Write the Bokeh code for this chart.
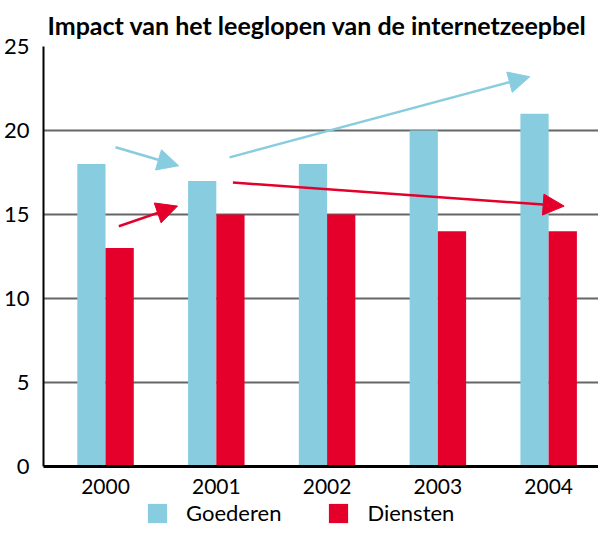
from bokeh.plotting import figure
from bokeh.layouts import column
from bokeh.models import ColumnDataSource, FixedTicker, Legend, LegendItem, Arrow, NormalHead, Range1d
from bokeh.transform import dodge
from bokeh.embed import file_html
from bokeh.resources import INLINE

years = ["2000", "2001", "2002", "2003", "2004"]
goederen = [18, 17, 18, 20, 21]
diensten = [13, 15, 15, 14, 14]
y_ticks = [0, 5, 10, 15, 20, 25]
series_names = ["Goederen", "Diensten"]

# trend arrows (data coordinates: x = year index, y = value)
blue_arrows = [((0.09, 19.0), (0.66, 17.9)), ((1.12, 18.4), (3.83, 23.2))]
red_arrows = [((0.12, 14.3), (0.65, 15.5)), ((1.15, 16.9), (4.14, 15.5))]

BLUE = "#88CDDF"
RED = "#E4002B"
FONT = "Lato"

xs = list(range(len(years)))
src = ColumnDataSource(dict(x=xs, g=goederen, d=diensten))

p = figure(width=598, height=496, output_backend="svg", toolbar_location=None,
           x_range=Range1d(-0.56, 4.45), y_range=Range1d(0, 25),
           min_border_left=31, min_border_right=0, min_border_top=0, min_border_bottom=0)

p.title.text = "Impact van het leeglopen van de internetzeepbel"
p.title.text_font = FONT
p.title.text_font_size = "25px"
p.title.text_font_style = "bold"
p.title.text_color = "black"
p.title.offset = 4
p.title.standoff = 14

rg = p.vbar(x=dodge("x", -0.1275), top="g", width=0.255, source=src, fill_color=BLUE, line_color=None)
rd = p.vbar(x=dodge("x", 0.1275), top="d", width=0.255, source=src, fill_color=RED, line_color=None)

for (s, e) in blue_arrows:
    p.add_layout(Arrow(end=NormalHead(size=21, fill_color=BLUE, line_color=BLUE),
                       x_start=s[0], y_start=s[1], x_end=e[0], y_end=e[1],
                       line_color=BLUE, line_width=2.5))
for (s, e) in red_arrows:
    p.add_layout(Arrow(end=NormalHead(size=21, fill_color=RED, line_color=RED),
                       x_start=s[0], y_start=s[1], x_end=e[0], y_end=e[1],
                       line_color=RED, line_width=2.5))

p.xaxis.ticker = FixedTicker(ticks=xs)
p.xaxis.major_label_overrides = {i: y for i, y in enumerate(years)}
p.yaxis.ticker = FixedTicker(ticks=y_ticks)
for ax in (p.xaxis, p.yaxis):
    ax.major_tick_line_color = None
    ax.minor_tick_line_color = None
    ax.axis_line_color = "black"
    ax.major_label_text_font = FONT
    ax.major_label_text_color = "black"
p.xaxis.major_label_text_font_size = "21px"
p.yaxis.major_label_text_font_size = "22px"
p.xaxis.axis_line_width = 3
p.yaxis.axis_line_width = 2
p.xaxis.major_label_standoff = 6
p.yaxis.major_label_standoff = 8

p.xgrid.grid_line_color = None
p.ygrid.grid_line_color = "#666666"
p.ygrid.grid_line_width = 2
p.outline_line_color = None

# legend strip below the chart (its bars lie outside its visible range)
p2 = figure(width=598, height=30, output_backend="svg", toolbar_location=None,
            x_range=Range1d(100, 101), y_range=Range1d(100, 101),
            x_axis_location=None, y_axis_location=None,
            min_border_left=0, min_border_right=0, min_border_top=0, min_border_bottom=0)
p2.grid.visible = False
p2.outline_line_color = None
lg = p2.vbar(x="x", top="g", width=0.255, source=src, fill_color=BLUE, line_color=None)
ld = p2.vbar(x="x", top="d", width=0.255, source=src, fill_color=RED, line_color=None)
legend = Legend(items=[LegendItem(label=series_names[0], renderers=[lg]),
                       LegendItem(label=series_names[1], renderers=[ld])],
                orientation="horizontal", location=(102, 0),
                glyph_width=24, glyph_height=24, label_standoff=17, spacing=45,
                label_height=24, label_text_line_height=1.0,
                label_text_font=FONT, label_text_font_size="22px", label_text_color="black",
                border_line_color=None, background_fill_alpha=0, padding=0, margin=0)
p2.add_layout(legend, "center")

open("out.html", "w").write(file_html(column(p, p2, spacing=0), INLINE))
